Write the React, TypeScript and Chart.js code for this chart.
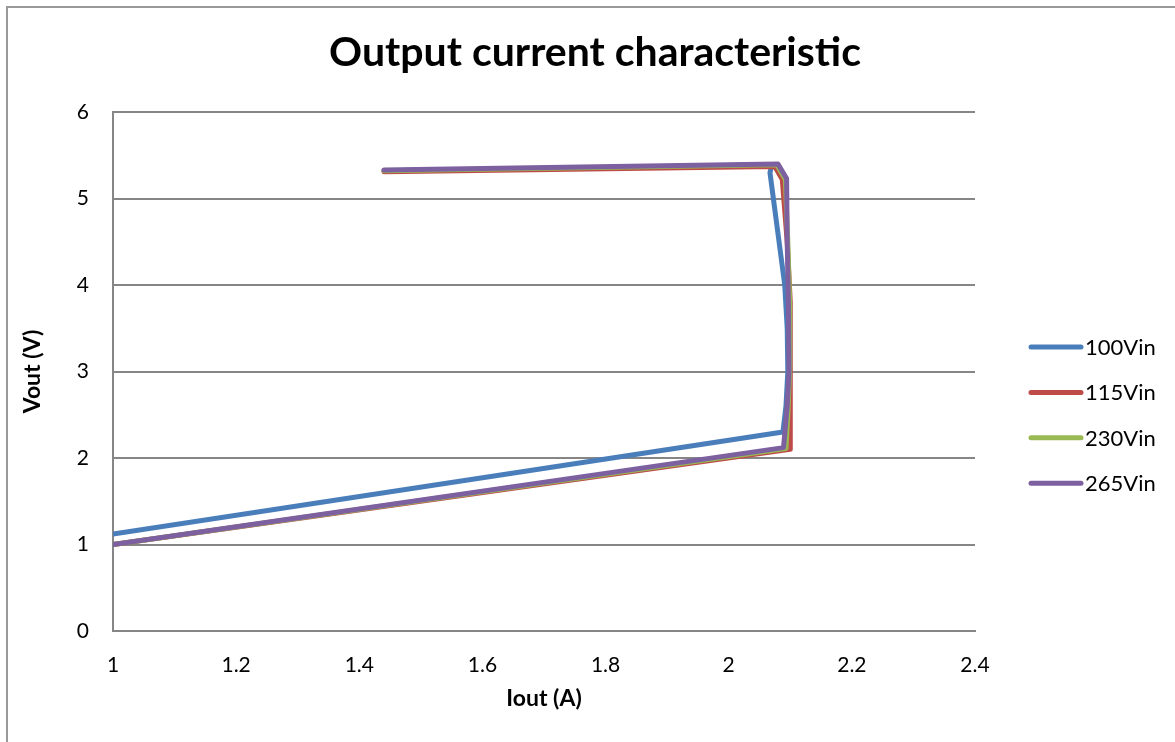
import React, { useEffect, useRef } from "react";
import { Chart, registerables } from "chart.js";

Chart.register(...registerables);

const chartTitle = "Output current characteristic";
const xAxisTitle = "Iout (A)";
const yAxisTitle = "Vout (V)";

const seriesNames = ["100Vin", "115Vin", "230Vin", "265Vin"];
const seriesColors = ["#4A7EBB", "#BE4B48", "#98B954", "#7D60A0"];

const iout100 = [1.44, 2.07, 2.067, 2.091, 2.095, 2.096, 2.093, 2.088, 1.0];
const vout100 = [5.32, 5.38, 5.3, 4.0, 3.5, 3.0, 2.6, 2.3, 1.12];

const iout115 = [1.44, 2.075, 2.087, 2.095, 2.1, 2.1, 2.1, 2.1, 1.0];
const vout115 = [5.31, 5.37, 5.22, 4.5, 3.8, 3.0, 2.5, 2.1, 1.0];

const iout230 = [1.44, 2.078, 2.092, 2.096, 2.099, 2.099, 2.096, 2.093, 1.0];
const vout230 = [5.32, 5.39, 5.22, 4.5, 3.8, 3.0, 2.5, 2.11, 1.0];

const iout265 = [1.44, 2.08, 2.094, 2.095, 2.097, 2.098, 2.095, 2.089, 1.0];
const vout265 = [5.33, 5.4, 5.23, 4.5, 3.8, 3.0, 2.6, 2.12, 1.0];

const xTickValues = [1, 1.2, 1.4, 1.6, 1.8, 2, 2.2, 2.4];
const yTickValues = [0, 1, 2, 3, 4, 5, 6];

const seriesX = [iout100, iout115, iout230, iout265];
const seriesY = [vout100, vout115, vout230, vout265];

const FONT = "Lato";

const overlayPlugin = {
  id: "overlay",
  afterDraw(chart: any) {
    const ctx = chart.ctx;
    ctx.save();
    ctx.fillStyle = "#000";
    ctx.font = `bold 41px ${FONT}`;
    ctx.textAlign = "center";
    ctx.textBaseline = "middle";
    ctx.fillText(chartTitle, 595, 53);
    chart.data.datasets.forEach((ds: any, i: number) => {
      const y = 347 + i * 45.4;
      ctx.strokeStyle = ds.borderColor;
      ctx.lineWidth = 5;
      ctx.lineCap = "round";
      ctx.beginPath();
      ctx.moveTo(1031, y);
      ctx.lineTo(1081, y);
      ctx.stroke();
      ctx.fillStyle = "#000";
      ctx.font = `22px ${FONT}`;
      ctx.textAlign = "left";
      ctx.textBaseline = "middle";
      ctx.fillText(ds.label, 1085, y + 1);
    });
    ctx.restore();
  },
};

export default function App() {
  const canvasRef = useRef<HTMLCanvasElement | null>(null);

  useEffect(() => {
    if (!canvasRef.current) return;
    const datasets = seriesNames.map((name, i) => ({
      label: name,
      data: seriesX[i].map((x, k) => ({ x, y: seriesY[i][k] })),
      borderColor: seriesColors[i],
      backgroundColor: seriesColors[i],
      borderWidth: 5,
      pointRadius: 0,
      showLine: true,
      tension: 0,
      borderJoinStyle: "round" as const,
      borderCapStyle: "round" as const,
      order: seriesNames.length - i,
    }));
    const chart = new Chart(canvasRef.current, {
      type: "scatter",
      data: { datasets },
      options: {
        animation: false,
        responsive: false,
        maintainAspectRatio: false,
        layout: { padding: { left: 19, top: 112, right: 200, bottom: 30 } },
        plugins: {
          legend: { display: false },
          title: { display: false },
          tooltip: { enabled: false },
        },
        scales: {
          x: {
            type: "linear",
            min: 1,
            max: 2.4,
            afterBuildTicks: (s: any) => {
              s.ticks = xTickValues.map((v) => ({ value: v }));
            },
            afterFit: (s: any) => {
              s.height = 81;
            },
            grid: { display: false, drawTicks: false },
            border: { display: true, color: "#868686", width: 2 },
            ticks: {
              padding: 22,
              color: "#000",
              font: { family: FONT, size: 21 },
              callback: (v: any) => String(Number(Number(v).toFixed(1))),
            },
            title: {
              display: true,
              text: xAxisTitle,
              color: "#000",
              font: { family: FONT, size: 23, weight: "bold" },
              padding: 0,
            },
          },
          y: {
            type: "linear",
            min: 0,
            max: 6,
            afterBuildTicks: (s: any) => {
              s.ticks = yTickValues.map((v) => ({ value: v }));
            },
            afterFit: (s: any) => {
              s.width = 94;
            },
            grid: { color: "#868686", lineWidth: 2, drawTicks: false },
            border: { display: true, color: "#868686", width: 2 },
            ticks: {
              padding: 24,
              color: "#000",
              font: { family: FONT, size: 21 },
              callback: (v: any) => String(v),
            },
            title: {
              display: true,
              text: yAxisTitle,
              color: "#000",
              font: { family: FONT, size: 23, weight: "bold" },
              padding: 0,
            },
          },
        },
      },
      plugins: [overlayPlugin],
    });
    return () => chart.destroy();
  }, []);

  return (
    <div>
      <div
        style={{
          position: "fixed",
          left: 6,
          top: 6,
          width: 1250,
          height: 800,
          border: "2px solid #999",
          boxSizing: "border-box",
          background: "#fff",
        }}
      />
      <canvas
        ref={canvasRef}
        width={1175}
        height={742}
        style={{ position: "fixed", left: 0, top: 0, width: 1175, height: 742 }}
      />
    </div>
  );
}
